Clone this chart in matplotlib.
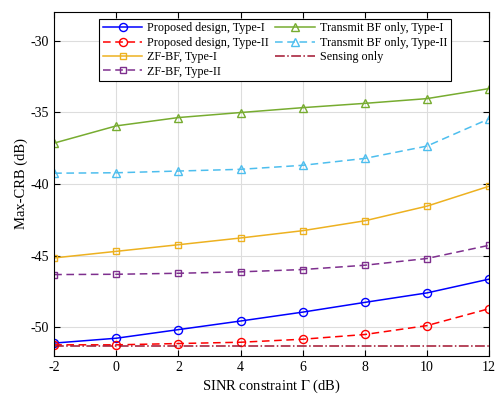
import matplotlib
matplotlib.use('Agg')
import matplotlib.pyplot as plt

plt.rcParams['font.family'] = ['Liberation Serif', 'DejaVu Serif']
plt.rcParams['mathtext.fontset'] = 'stix'
plt.rcParams['axes.unicode_minus'] = False

snr = [-2, 0, 2, 4, 6, 8, 10, 12]
prop1 = [-51.1, -50.76, -50.16, -49.56, -48.94, -48.26, -47.6, -46.64]
prop2 = [-51.22, -51.22, -51.13, -51.04, -50.83, -50.5, -49.88, -48.7]
zf1 = [-45.16, -44.7, -44.24, -43.77, -43.26, -42.57, -41.55, -40.16]
zf2 = [-46.32, -46.3, -46.23, -46.13, -45.97, -45.67, -45.2, -44.28]
tbf1 = [-37.15, -35.95, -35.37, -35.02, -34.68, -34.38, -34.05, -33.35]
tbf2 = [-39.25, -39.22, -39.1, -38.98, -38.7, -38.22, -37.36, -35.46]
sens = [-51.3] * 8

fig = plt.figure(figsize=(4.97, 3.96), dpi=100)
ax = fig.add_axes([0.109, 0.101, 0.875, 0.869])

ms = 5.8
ax.plot(snr, prop1, '-', color='#0000FF', marker='o', mfc='none', ms=ms, lw=1.1, label='Proposed design, Type-I')
ax.plot(snr, prop2, '--', color='#FF0000', marker='o', mfc='none', ms=ms, lw=1.1, dashes=(5, 3), label='Proposed design, Type-II')
ax.plot(snr, zf1, '-', color='#EDB120', marker='s', mfc='none', ms=4.5, lw=1.1, label='ZF-BF, Type-I')
ax.plot(snr, zf2, '--', color='#7E2F8E', marker='s', mfc='none', ms=4.5, lw=1.1, dashes=(5, 3), label='ZF-BF, Type-II')
ax.plot(snr, tbf1, '-', color='#77AC30', marker='^', mfc='none', ms=ms, lw=1.1, label='Transmit BF only, Type-I')
ax.plot(snr, tbf2, '--', color='#4DBEEE', marker='^', mfc='none', ms=ms, lw=1.1, dashes=(5, 3), label='Transmit BF only, Type-II')
ax.plot(snr, sens, '-.', color='#A2142F', lw=1.1, label='Sensing only')

ax.set_xlim(-2, 12)
ax.set_ylim(-52, -28)
ax.set_xticks(snr)
ax.set_yticks([-50, -45, -40, -35, -30])
ax.grid(True, color='#dddddd', lw=0.8)
ax.tick_params(direction='in', top=True, right=True, labelsize=10, length=4)
for s in ax.spines.values():
    s.set_linewidth(0.8)
ax.set_xlabel('SINR constraint $\\Gamma$ (dB)', fontsize=10.5, labelpad=3)
ax.set_ylabel('Max-CRB (dB)', fontsize=10.5, labelpad=2)

leg = ax.legend(loc='upper left', bbox_to_anchor=(0.103, 0.98), ncol=2, fontsize=8.7,
                frameon=True, fancybox=False, edgecolor='black', framealpha=1,
                handlelength=3.3, handletextpad=0.4, columnspacing=0.5,
                labelspacing=0.2, borderpad=0.3, borderaxespad=0)
leg.get_frame().set_linewidth(0.8)

fig.savefig('out.png', dpi=100)
